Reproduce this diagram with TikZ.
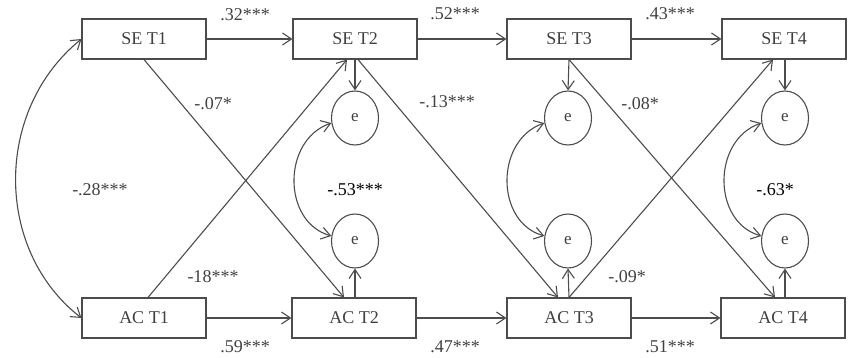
\documentclass[tikz,border=0pt]{standalone}
\usepackage{fontspec}
\setmainfont{Liberation Serif}
\usetikzlibrary{arrows.meta,shapes.geometric}
\begin{document}
\begin{tikzpicture}[x=1pt,y=-1pt,
  line width=1.1pt,
  >={Straight Barb[length=9pt,width=12pt]},
  box/.style={draw=black!70,rectangle,minimum width=124pt,minimum height=40pt,inner sep=0pt,font=\fontsize{18}{20}\selectfont,text=black!75},
  err/.style={draw=black!70,ellipse,minimum width=47pt,minimum height=54pt,inner sep=0pt,font=\fontsize{17}{19}\selectfont,text=black!75},
  conn/.style={draw=black!70,->},
  dbl/.style={draw=black!70,<->},
  lbl/.style={font=\fontsize{18}{20}\selectfont,text=black!75,inner sep=1pt},
  lblb/.style={font=\fontsize{18}{20}\selectfont,text=black,inner sep=1pt}]
\useasboundingbox (0,0) rectangle (848,358);
% boxes
\node[box] (se1) at (144,39) {SE T1};
\node[box] (se2) at (355,39) {SE T2};
\node[box] (se3) at (569,39) {SE T3};
\node[box] (se4) at (784,39) {SE T4};
\node[box] (ac1) at (144,318) {AC T1};
\node[box] (ac2) at (354,318) {AC T2};
\node[box] (ac3) at (569,318) {AC T3};
\node[box] (ac4) at (783,318) {AC T4};
% error terms
\node[err] (e2t) at (355,118) {e};
\node[err] (e3t) at (568,118) {e};
\node[err] (e4t) at (785,118) {e};
\node[err] (e2b) at (355,241) {e};
\node[err] (e3b) at (568,241) {e};
\node[err] (e4b) at (785,241) {e};
% horizontal paths
\draw[conn] (se1) -- (se2);
\draw[conn] (se2) -- (se3);
\draw[conn] (se3) -- (se4);
\draw[conn] (ac1) -- (ac2);
\draw[conn] (ac2) -- (ac3);
\draw[conn] (ac3) -- (ac4);
% cross-lagged
\draw[conn] (se1.south) -- ([xshift=-10pt]ac2.north);
\draw[conn] ([xshift=4pt]ac1.north) -- ([xshift=-8pt]se2.south);
\draw[conn] ([xshift=3pt]se2.south) -- ([xshift=-11pt]ac3.north);
\draw[conn] (ac3.north) -- ([xshift=-11pt]se4.south);
\draw[conn] (se3.south) -- ([xshift=-8pt]ac4.north);
% to error terms
\draw[conn] (se2.south) -- (e2t.north);
\draw[conn] (se3.south) -- (e3t.north);
\draw[conn] ([xshift=1pt]se4.south) -- (e4t.north);
\draw[conn] ([xshift=1pt]ac2.north) -- (e2b.south);
\draw[conn] (ac3.north) -- (e3b.south);
\draw[conn] ([xshift=2pt]ac4.north) -- (e4b.south);
% covariances
\draw[dbl] (se1.west) .. controls (-6,110) and (-6,250) .. (ac1.west);
\draw[dbl] (e2t.192) .. controls (282,140) and (282,222) .. (e2b.168);
\draw[dbl] (e3t.192) .. controls (495,140) and (495,222) .. (e3b.168);
\draw[dbl] (e4t.192) .. controls (712,140) and (712,222) .. (e4b.168);
% labels
\node[lbl] (l1) at (245,15) {.32***};
\node[lbl] (l2) at (455,14) {.52***};
\node[lbl] (l3) at (670,14) {.43***};
\node[lbl] (l4) at (213,104) {-.07*};
\node[lbl] (l5) at (447,102) {-.13***};
\node[lbl] (l6) at (640,104) {-.08*};
\node[lbl] (l7) at (100,190) {-.28***};
\node[lblb] (l8) at (355,190) {-.53***};
\node[lblb] (l9) at (775,190) {-.63*};
\node[lbl] (l10) at (213,277) {-18***};
\node[lbl] (l11) at (627,277) {-.09*};
\node[lbl] (l12) at (245,347) {.59***};
\node[lbl] (l13) at (455,347) {.47***};
\node[lbl] (l14) at (670,347) {.51***};
\end{tikzpicture}
\end{document}
